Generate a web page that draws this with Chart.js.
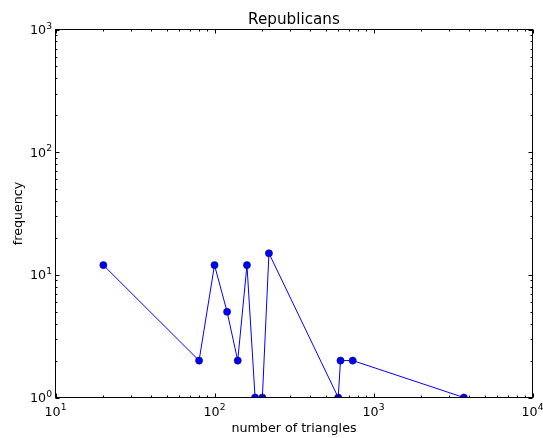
<!DOCTYPE html>
<html>
<head>
<meta charset="utf-8">
<script src="https://cdn.jsdelivr.net/npm/chart.js@4/dist/chart.umd.min.js"></script>
<style>
  html, body { margin: 0; padding: 0; background: #ffffff; }
  #wrap { width: 543px; height: 438px; }
</style>
</head>
<body>
<div id="wrap"><canvas id="c" width="543" height="438"></canvas></div>
<script>
// Triangle counts and how many nodes have each count
const triangles = [20, 80, 100, 120, 140, 160, 180, 200, 220, 600, 620, 740, 3700];
const frequency = [12, 2, 12, 5, 2, 12, 1, 1, 15, 1, 2, 2, 1];

// Axis ranges (decades) and tick exponents
const xDecades = [1, 2, 3, 4];
const yDecades = [0, 1, 2, 3];

const chartTitle = 'Republicans';
const xTitle = 'number of triangles';
const yTitle = 'frequency';

const FONT = '"DejaVu Sans", "Liberation Sans", sans-serif';
const BASE_PX = 12.67;
const EXP_PX = 9.2;

// Draw "10" with a raised exponent; anchor: 'center-top' (x axis) or 'right-middle' (y axis)
function drawPow(ctx, exp, x, y, anchor) {
  ctx.save();
  ctx.fillStyle = '#000';
  ctx.textBaseline = 'alphabetic';
  ctx.textAlign = 'left';
  ctx.font = BASE_PX + 'px ' + FONT;
  const bw = ctx.measureText('10').width;
  ctx.font = EXP_PX + 'px ' + FONT;
  const ew = ctx.measureText(String(exp)).width;
  const total = bw + ew;
  let left, baseline;
  if (anchor === 'center-top') {
    left = x - total / 2;
    baseline = y;
  } else {
    left = x - total;
    baseline = y + 4.6;
  }
  ctx.font = BASE_PX + 'px ' + FONT;
  ctx.fillText('10', left, baseline);
  ctx.font = EXP_PX + 'px ' + FONT;
  ctx.fillText(String(exp), left + bw, baseline - 5.3);
  ctx.restore();
}

// Frame, inward major/minor ticks on all four sides, labels and titles
const axesDecor = {
  id: 'axesDecor',
  afterDatasetsDraw(chart) {
    const { ctx, chartArea: a, scales } = chart;
    const xs = scales.x, ys = scales.y;
    const MAJ = 4, MIN = 2;
    ctx.save();
    ctx.strokeStyle = '#000';
    ctx.lineWidth = 1;

    const line = (x1, y1, x2, y2) => {
      ctx.beginPath(); ctx.moveTo(x1, y1); ctx.lineTo(x2, y2); ctx.stroke();
    };

    // x ticks
    for (let d = xDecades[0]; d <= xDecades[xDecades.length - 1]; d++) {
      for (let k = 1; k <= 9; k++) {
        const v = k * Math.pow(10, d);
        if (v > Math.pow(10, xDecades[xDecades.length - 1])) break;
        const px = Math.round(xs.getPixelForValue(v)) + 0.5;
        const len = k === 1 ? MAJ : MIN;
        line(px, a.bottom, px, a.bottom - len);
        line(px, a.top, px, a.top + len);
      }
    }
    // y ticks
    for (let d = yDecades[0]; d <= yDecades[yDecades.length - 1]; d++) {
      for (let k = 1; k <= 9; k++) {
        const v = k * Math.pow(10, d);
        if (v > Math.pow(10, yDecades[yDecades.length - 1])) break;
        const py = Math.round(ys.getPixelForValue(v)) + 0.5;
        const len = k === 1 ? MAJ : MIN;
        line(a.left, py, a.left + len, py);
        line(a.right, py, a.right - len, py);
      }
    }

    // frame
    ctx.strokeRect(a.left, a.top, a.right - a.left, a.bottom - a.top);

    // tick labels
    xDecades.forEach(e => drawPow(ctx, e, xs.getPixelForValue(Math.pow(10, e)), a.bottom + 18, 'center-top'));
    yDecades.forEach(e => drawPow(ctx, e, a.left - 3.5, ys.getPixelForValue(Math.pow(10, e)), 'right-middle'));

    // titles
    ctx.fillStyle = '#000';
    ctx.textAlign = 'center';
    ctx.textBaseline = 'alphabetic';
    const cx = (a.left + a.right) / 2;
    ctx.font = '15.2px ' + FONT;
    ctx.fillText(chartTitle, cx, 24.3);
    ctx.font = BASE_PX + 'px ' + FONT;
    ctx.fillText(xTitle, cx, 431.5);
    ctx.save();
    ctx.translate(21.5, (a.top + a.bottom) / 2);
    ctx.rotate(-Math.PI / 2);
    ctx.fillText(yTitle, 0, 0);
    ctx.restore();

    ctx.restore();
  }
};

new Chart(document.getElementById('c'), {
  type: 'scatter',
  data: {
    datasets: [{
      data: triangles.map((t, i) => ({ x: t, y: frequency[i] })),
      showLine: true,
      borderColor: '#0000ff',
      borderWidth: 1,
      pointRadius: 3.6,
      pointBackgroundColor: '#0000ff',
      pointBorderColor: '#000033',
      pointBorderWidth: 0.5,
      clip: 0
    }]
  },
  options: {
    responsive: false,
    animation: false,
    devicePixelRatio: 1,
    layout: { padding: { left: 55.5, right: 10.5, top: 29.5, bottom: 40.5 } },
    plugins: { legend: { display: false }, tooltip: { enabled: false }, title: { display: false } },
    scales: {
      x: { type: 'logarithmic', min: 10, max: 10000, display: false },
      y: { type: 'logarithmic', min: 1, max: 1000, display: false }
    }
  },
  plugins: [axesDecor]
});
</script>
</body>
</html>
